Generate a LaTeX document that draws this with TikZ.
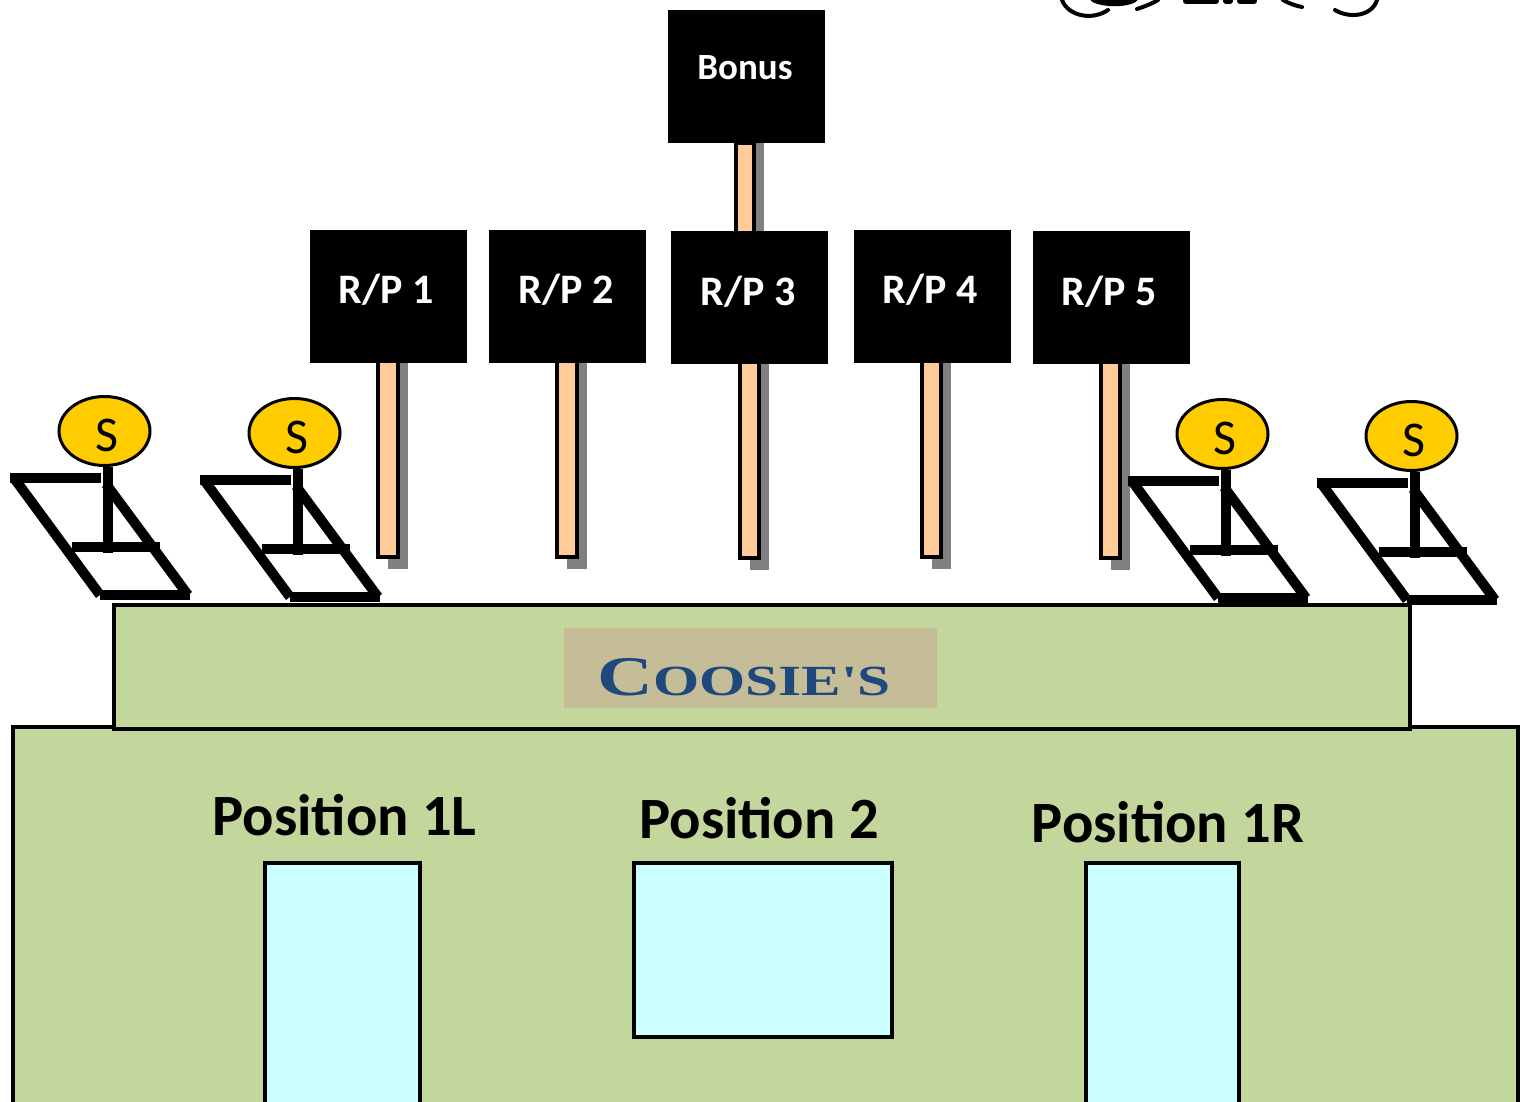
\documentclass[tikz,border=0pt]{standalone}
\usepackage{fontspec}
\setmainfont{Carlito}
\newfontfamily\coosiefont[FakeStretch=1.38]{Liberation Serif}
\usetikzlibrary{shapes.geometric}
\definecolor{wallgreen}{HTML}{C3D69B}
\definecolor{tanbox}{HTML}{C4BD97}
\definecolor{winblue}{HTML}{CCFFFF}
\definecolor{postfill}{HTML}{FFCC99}
\definecolor{shadowgray}{HTML}{808080}
\definecolor{spot}{HTML}{FFCC00}
\definecolor{coosieblue}{HTML}{1F497D}
\tikzset{
  x=1pt,y=-1pt,
  wall/.style={draw=black,line width=3.4pt,fill=wallgreen},
  windowbox/.style={draw=black,line width=3.6pt,fill=winblue},
  signbox/.style={fill=black,inner sep=0pt,minimum width=157pt,minimum height=133pt},
  signtext/.style={text=white,inner sep=0pt,font=\fontsize{42}{44}\selectfont\bfseries},
  bonustext/.style={text=white,inner sep=0pt,font=\fontsize{37}{40}\selectfont\bfseries},
  postbar/.style={draw=black,line width=3.6pt,fill=postfill},
  postshadow/.style={fill=shadowgray},
  panel/.style={draw=black,line width=10pt},
  lightnode/.style={ellipse,draw=black,line width=3pt,fill=spot,inner sep=0pt,minimum width=91pt,minimum height=69pt},
  lighttext/.style={inner sep=0pt,font=\fontsize{50}{52}\selectfont},
  poslabel/.style={anchor=base,inner sep=0pt,font=\fontsize{58.5}{62}\selectfont\bfseries},
  ornament/.style={draw=black,line width=4pt,line cap=round}
}
\newcommand{\stand}[3]{% name, x offset, y offset
  \begin{scope}[shift={(#2,#3)}]
    \node[lightnode] (#1) at (104.5,431) {};
    \node[lighttext] (#1text) at (107,435) {S};
    \coordinate (#1tl) at (10,478);
    \coordinate (#1tr) at (101,478);
    \coordinate (#1rt) at (106,484);
    \coordinate (#1lt) at (14,478);
    \coordinate (#1lb) at (100,595);
    \coordinate (#1br) at (190,595);
    \coordinate (#1bl) at (100,595);
    \coordinate (#1rb) at (188,595);
    \coordinate (#1cl) at (72,547);
    \coordinate (#1cr) at (160,547);
    \coordinate (#1base) at (107.5,553);
    \draw[panel] (#1tl) -- (#1tr);
    \draw[panel] (#1lt) -- (#1lb);
    \draw[panel] (#1bl) -- (#1br);
    \draw[panel] (#1rt) -- (#1rb);
    \draw[panel] (#1cl) -- (#1cr);
    \draw[panel] (#1.south -| #1base) -- (#1base);
  \end{scope}}
\newcommand{\post}[4]{% left, right, top, bottom
  \fill[postshadow] (#1+10,#3) rectangle (#2+10,#4+12);
  \draw[postbar] (#1,#3) rectangle (#2,#4);}
\begin{document}
\begin{tikzpicture}
\clip (0,0) rectangle (1525,1101);
% cropped ornament at the top
\draw[ornament] (1062,0) .. controls (1068,16) and (1092,21) .. (1108,10);
\draw[ornament] (1137,9) .. controls (1146,6) and (1153,3) .. (1158,0);
\draw[ornament,line width=7pt] (1094,-1) .. controls (1105,4) and (1125,4) .. (1134,-1);
\draw[ornament] (1283,0) .. controls (1288,3) and (1296,6) .. (1302,7);
\draw[ornament] (1335,10) .. controls (1350,19) and (1372,16) .. (1377,0);
\draw[ornament,line width=6pt] (1186,1) -- (1216,1);
\draw[ornament,line width=6pt] (1226,1) -- (1230,1);
\draw[ornament,line width=6pt] (1240,1) -- (1254,1);
% posts
\post{378}{398}{360}{557}
\post{557}{577}{360}{557}
\post{740}{759}{360}{558}
\post{922}{941}{360}{557}
\post{1101}{1120}{360}{558}
\post{736}{754}{143}{235}
% signs
\node[signbox] (bonus) at (746.5,76.5) {};
\node[signbox] (rp1) at (388.5,296.5) {};
\node[signbox] (rp2) at (567.5,296.5) {};
\node[signbox] (rp3) at (749.5,297.5) {};
\node[signbox] (rp4) at (932.5,296.5) {};
\node[signbox] (rp5) at (1111.5,297.5) {};
\node[bonustext] (bonuslabel) at (745,68) {Bonus};
\node[signtext] (rp1text) at (386,290) {R/P 1};
\node[signtext] (rp2text) at (566,290) {R/P 2};
\node[signtext] (rp3text) at (748,292) {R/P 3};
\node[signtext] (rp4text) at (930,290) {R/P 4};
\node[signtext] (rp5text) at (1109,292) {R/P 5};
% stands
\stand{sa}{0}{0}
\stand{sb}{190}{2}
\stand{sc}{1118}{3}
\stand{sd}{1307}{5}
% building
\draw[wall] (13,727) rectangle (1518,1110);
\draw[wall] (114,605) rectangle (1410,729);
\fill[tanbox] (564,628) rectangle (937,708);
\node[anchor=base west,inner sep=0pt,text=coosieblue] (coosie) at (597,695)
  {\coosiefont\bfseries{\fontsize{56}{58}\selectfont C}{\fontsize{43}{58}\selectfont OOSIE'S}};
% windows
\draw[windowbox] (265,863) rectangle (420,1110);
\draw[windowbox] (634,863) rectangle (892,1037);
\draw[windowbox] (1086,863) rectangle (1239,1110);
% labels
\node[poslabel] (p1l) at (344.5,835) {Position 1L};
\node[poslabel] (p2) at (759,838) {Position 2};
\node[poslabel] (p1r) at (1168,842) {Position 1R};
\end{tikzpicture}
\end{document}
